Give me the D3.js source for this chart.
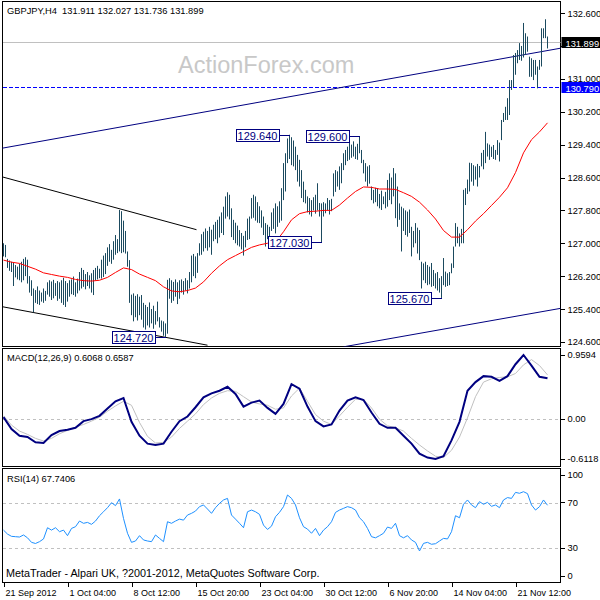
<!DOCTYPE html>
<html>
<head>
<meta charset="utf-8">
<script src="https://cdn.jsdelivr.net/npm/d3@7"></script>
<style>
  body { margin: 0; background: #fff; }
  svg text { font-family: "Liberation Sans", Arial, sans-serif; }
</style>
</head>
<body>
<div id="chart"><svg width="600" height="600"></svg></div>
<script>
// H4 bars, highs and lows (one per bar)
var highs = [
  127.00, 126.96, 126.62, 126.58, 126.55, 126.52, 126.47, 126.43, 126.50, 126.55,
  126.62, 126.66, 126.60, 126.20, 126.10, 125.90, 125.86, 125.95, 125.85, 125.80,
  125.90, 125.84, 126.05, 126.10, 126.07, 126.11, 126.03, 126.08, 126.05, 126.10,
  126.16, 126.08, 126.03, 126.10, 126.12, 126.19, 126.05, 126.14, 126.30, 126.40,
  126.35, 126.25, 126.30, 126.22, 126.27, 126.35, 126.40, 126.45, 126.38, 126.60,
  126.70, 126.76, 126.90, 126.98, 126.84, 127.05, 127.20, 127.10, 127.81, 127.78,
  127.55, 127.30, 126.80, 126.59, 125.75, 125.78, 125.72, 125.76, 125.70, 125.74,
  125.55, 125.50, 125.45, 125.56, 125.40, 125.48, 125.35, 125.58, 125.20, 125.12,
  125.10, 125.05, 126.11, 126.15, 126.10, 126.06, 126.12, 126.05, 126.10, 126.12,
  126.08, 126.15, 126.10, 126.30, 126.70, 126.74, 126.68, 126.76, 127.00, 127.22,
  127.28, 127.36, 127.30, 127.40, 127.33, 127.45, 127.52, 127.57, 127.65, 127.75,
  127.89, 128.14, 128.24, 128.18, 127.85, 127.57, 127.50, 127.43, 127.32, 127.25,
  127.18, 127.30, 127.60, 127.65, 128.10, 128.18, 128.14, 128.00, 127.90, 127.80,
  127.65, 127.49, 127.45, 127.40, 127.75, 127.85, 127.97, 127.90, 128.02, 128.34,
  128.95, 129.19, 129.55, 129.64, 129.58, 129.50, 129.35, 129.15, 129.03, 128.78,
  128.50, 128.30, 128.14, 128.10, 128.05, 128.12, 128.18, 128.46, 127.98, 127.97,
  128.00, 127.97, 128.10, 128.05, 128.08, 128.70, 128.78, 128.75, 128.87, 128.95,
  129.19, 129.27, 129.35, 129.45, 129.40, 129.48, 129.35, 129.42, 129.60, 129.27,
  129.03, 128.95, 128.87, 128.90, 128.38, 128.30, 128.35, 128.34, 128.20, 128.28,
  128.14, 128.25, 128.54, 128.70, 128.60, 128.83, 128.70, 128.38, 127.97, 127.89,
  127.85, 127.80, 127.77, 127.82, 127.40, 127.30, 127.49, 127.38, 127.32, 126.55,
  126.51, 126.55, 126.47, 126.43, 126.52, 126.35, 126.27, 126.30, 126.15, 126.20,
  126.64, 126.31, 126.27, 126.30, 126.51, 126.92, 127.49, 127.40, 127.24, 127.35,
  128.30, 128.34, 128.55, 128.96, 128.95, 128.90, 128.87, 128.93, 128.88, 129.20,
  129.27, 129.71, 129.43, 129.40, 129.35, 129.39, 129.27, 129.51, 129.45, 130.00,
  130.17, 130.32, 130.53, 130.97, 130.97, 131.58, 131.63, 131.70, 131.87, 131.80,
  132.36, 132.11, 132.03, 131.54, 131.50, 131.46, 131.46, 131.30, 131.46, 132.23,
  132.23, 132.45, 132.03
];
var lows = [
  126.68, 126.66, 126.40, 126.33, 126.30, 125.96, 126.17, 126.12, 126.10, 126.05,
  126.10, 126.20, 126.02, 125.80, 125.72, 125.32, 125.55, 125.52, 125.50, 125.58,
  125.55, 125.60, 125.75, 125.70, 125.62, 125.66, 125.72, 125.60, 125.65, 125.55,
  125.50, 125.45, 125.58, 125.70, 125.76, 125.74, 125.70, 125.78, 125.85, 125.90,
  125.94, 125.88, 125.96, 125.90, 125.80, 125.74, 126.10, 126.12, 126.15, 126.14,
  126.18, 126.25, 126.45, 126.55, 126.50, 126.60, 126.72, 126.76, 126.80, 126.76,
  126.78, 126.75, 126.43, 125.55, 125.25, 125.10, 125.20, 125.12, 125.25, 125.14,
  124.95, 124.90, 125.00, 124.95, 125.05, 124.92, 125.02, 125.10, 124.95, 124.85,
  124.75, 124.72, 124.80, 125.65, 125.55, 125.60, 125.70, 125.52, 125.65, 125.80,
  125.75, 125.85, 125.78, 125.90, 126.05, 126.20, 126.15, 126.28, 126.70, 126.72,
  126.80, 126.88, 126.82, 126.90, 126.72, 127.05, 127.10, 127.00, 127.14, 127.25,
  127.20, 127.60, 127.65, 127.58, 127.15, 127.08, 127.00, 126.95, 126.92, 126.85,
  126.70, 126.90, 127.08, 127.10, 127.60, 127.62, 127.55, 127.50, 127.49, 127.38,
  127.20, 126.92, 127.10, 127.05, 127.30, 127.35, 127.24, 127.40, 127.50, 127.55,
  128.05, 128.26, 128.95, 129.05, 128.90, 128.87, 128.78, 128.50, 128.38, 128.10,
  128.00, 127.97, 127.75, 127.70, 127.65, 127.80, 127.72, 127.80, 127.65, 127.03,
  127.65, 127.73, 127.80, 127.70, 127.78, 128.14, 128.25, 128.38, 128.30, 128.46,
  128.78, 128.90, 129.00, 129.03, 129.08, 129.11, 129.05, 129.03, 129.19, 128.95,
  128.70, 128.50, 128.38, 128.45, 128.05, 127.97, 128.00, 127.90, 127.85, 127.81,
  127.95, 127.85, 127.89, 128.05, 127.95, 128.14, 127.61, 127.40, 127.57, 126.80,
  127.30, 127.20, 127.16, 127.25, 126.68, 126.90, 127.00, 126.75, 126.59, 125.90,
  126.10, 126.03, 125.98, 126.00, 125.94, 125.96, 125.90, 125.85, 125.80, 125.67,
  125.98, 125.94, 125.96, 125.98, 126.27, 126.40, 126.92, 127.00, 126.92, 127.00,
  127.00, 127.93, 128.20, 128.26, 128.50, 128.40, 128.55, 128.38, 128.60, 128.87,
  128.80, 128.95, 129.11, 129.03, 129.10, 129.05, 129.03, 129.15, 128.99, 129.51,
  129.95, 130.00, 130.00, 130.12, 130.73, 130.80, 131.10, 131.38, 131.46, 131.44,
  131.52, 131.58, 131.66, 131.05, 131.05, 130.97, 131.10, 130.77, 131.22, 131.30,
  131.99, 131.99, 131.74
];

// red moving average, read every 4th bar
var maStep = 4;
var maValues = [
  126.59, 126.54, 126.51, 126.44, 126.37, 126.28, 126.24, 126.20, 126.17, 126.12,
  126.09, 126.08, 126.10, 126.17, 126.29, 126.40, 126.36, 126.25, 126.17, 126.09,
  125.94, 125.84, 125.82, 125.85, 125.91, 126.06, 126.27, 126.45, 126.60, 126.70,
  126.80, 126.90, 126.96, 127.00, 127.03, 127.28, 127.57, 127.72, 127.77, 127.78,
  127.80, 127.80, 127.93, 128.10, 128.26, 128.37, 128.36, 128.32, 128.32, 128.31,
  128.23, 128.14, 128.00, 127.81, 127.59, 127.31, 127.15, 127.15, 127.33, 127.54,
  127.72, 127.92, 128.12, 128.35, 128.72, 129.20, 129.52, 129.71, 129.93
];

// MACD(12,26,9), every 4th bar
var macdStep = 4;
var macdMain = [
  0.02, -0.16, -0.26, -0.28, -0.36, -0.37, -0.25, -0.19, -0.17, -0.14,
  -0.04, -0.01, 0.04, 0.15, 0.26, 0.31, -0.05, -0.26, -0.38, -0.40,
  -0.38, -0.20, -0.04, 0.03, 0.17, 0.32, 0.38, 0.42, 0.48, 0.37,
  0.18, 0.24, 0.27, 0.16, 0.07, 0.22, 0.52, 0.45, 0.18, -0.04,
  -0.12, -0.09, 0.12, 0.27, 0.32, 0.28, 0.09, -0.08, -0.14, -0.14,
  -0.26, -0.38, -0.53, -0.59, -0.61, -0.57, -0.33, -0.05, 0.42, 0.55,
  0.64, 0.63, 0.57, 0.64, 0.82, 0.9594, 0.80, 0.63, 0.6068
];
var macdSignal = [
  0.04, -0.10, -0.19, -0.24, -0.30, -0.34, -0.30, -0.23, -0.18, -0.13,
  -0.09, -0.04, 0.02, 0.11, 0.19, 0.26, 0.20, -0.06, -0.27, -0.37,
  -0.36, -0.28, -0.15, -0.04, 0.07, 0.21, 0.31, 0.38, 0.42, 0.41,
  0.33, 0.25, 0.22, 0.20, 0.14, 0.16, 0.34, 0.46, 0.26, 0.06,
  -0.04, -0.09, 0.04, 0.17, 0.29, 0.29, 0.16, -0.01, -0.11, -0.14,
  -0.19, -0.30, -0.40, -0.49, -0.57, -0.59, -0.48, -0.28, 0.01, 0.33,
  0.55, 0.60, 0.62, 0.63, 0.68, 0.81, 0.89, 0.80, 0.6587
];

// RSI(14), every 2nd bar
var rsiStep = 2;
var rsiValues = [
  45.8, 42.3, 40.3, 40.0, 39.7, 41.5, 39.0, 35.0, 34.0, 35.6,
  38.0, 47.9, 45.8, 47.9, 44.4, 45.8, 40.9, 47.3, 48.8, 53.8,
  51.8, 52.6, 50.9, 53.8, 58.5, 62.0, 65.6, 70.0, 67.4, 73.3,
  56.1, 43.0, 35.0, 36.2, 40.9, 37.1, 36.2, 35.6, 41.5, 38.5,
  35.6, 53.2, 51.8, 53.8, 55.5, 54.6, 59.1, 60.6, 62.6, 66.5,
  68.0, 64.4, 60.6, 65.6, 69.4, 72.4, 73.8, 59.1, 55.5, 51.8,
  47.9, 62.0, 63.5, 62.0, 59.7, 50.2, 46.4, 49.3, 57.6, 61.5,
  66.5, 76.8, 73.8, 68.0, 56.7, 48.8, 46.7, 43.0, 47.3, 40.9,
  45.8, 48.8, 53.2, 61.4, 63.5, 65.0, 66.5, 65.6, 63.5, 56.7,
  53.2, 47.3, 40.0, 39.0, 40.9, 43.0, 48.5, 47.3, 51.8, 40.9,
  39.0, 40.9, 37.1, 35.0, 27.4, 34.1, 35.0, 33.3, 33.8, 36.2,
  38.5, 38.0, 44.4, 58.5, 56.7, 68.6, 72.4, 68.0, 65.6, 70.9,
  68.6, 70.3, 66.8, 68.0, 65.6, 72.4, 74.5, 73.8, 79.1, 78.3,
  79.7, 78.0, 68.0, 63.5, 66.5, 72.4, 67.7406
];

var priceTicks = [124.6, 125.4, 126.2, 127.0, 127.8, 128.6, 129.4, 130.2, 131.0, 131.8, 132.6];
var macdTicks = [0.9594, 0, -0.6118];
var rsiTicks = [100, 70, 30, 0];
var rsiLevels = [70, 30];
var timeLabels = ["21 Sep 2012", "1 Oct 04:00", "8 Oct 12:00", "15 Oct 20:00", "23 Oct 04:00",
                  "30 Oct 12:00", "6 Nov 20:00", "14 Nov 04:00", "21 Nov 12:00"];
var timeBars = [0, 32, 64, 96, 128, 160, 192, 224, 256];

// swing highs / lows that carry a price tag
var swingBars = [143, 178, 159, 219, 81];
var swingPrices = [129.64, 129.60, 127.03, 125.67, 124.72];

// drawn lines as [bar, price] pairs
var channelLines = [[[-1, 129.31], [279, 131.75]], [[170, 124.48], [279, 125.42]]];
var wedgeLines = [[[-1, 128.62], [96.5, 127.33]], [[-1, 125.46], [102, 124.52]]];

var symbol = "GBPJPY,H4";
var lastOhlc = [131.911, 132.027, 131.736, 131.899];
var levelPrice = 130.79;


function Chart(config) {
  var width = config.width,
      height = config.height,
      id = config.id,
      svg

  var left = 2.5, right = 560.5
  var panes = {main: [1.5, 346.5], macd: [348.5, 466.5], rsi: [468.5, 582]}
  var x, yPrice, yMacd, yRsi

  function chart() {
    initialize();
    drawFrames();
    drawMain();
    drawMacd();
    drawRsi();
    drawTime();
  }

  // horizontal rules land on a whole pixel row
  const crisp = v => Math.round(v) + 0.5

  const initialize = () => {
    svg = d3.select('#' + id).select('svg')
      .attr('width', width).attr('height', height)

    x = d3.scaleLinear().domain([0, highs.length - 1]).range([3.5, 3.5 + 2 * (highs.length - 1)])
    yPrice = d3.scaleLinear().domain([124.6, 132.6]).range([341.9, 13.1])
    yMacd = d3.scaleLinear().domain([-0.6118, 0.9594]).range([459, 355])
    yRsi = d3.scaleLinear().domain([0, 100]).range([582, 468.7])

    var defs = svg.append('defs')
    Object.keys(panes).forEach(k => {
      defs.append('clipPath').attr('id', 'clip-' + k)
        .append('rect')
        .attr('x', left).attr('y', panes[k][0])
        .attr('width', right - left).attr('height', panes[k][1] - panes[k][0])
    })
  }

  const drawFrames = () => {
    Object.keys(panes).forEach(k => {
      svg.append('rect')
        .attr('x', left).attr('y', panes[k][0])
        .attr('width', right - left).attr('height', panes[k][1] - panes[k][0])
        .attr('fill', 'none').attr('stroke', '#000')
        .attr('shape-rendering', 'crispEdges')
    })
  }

  function rightAxis(scale, ticks, fmt) {
    var g = svg.append('g')
      .attr('transform', 'translate(' + right + ',0)')
      .call(d3.axisRight(scale).tickValues(ticks).tickFormat(fmt).tickSize(4))
    g.select('.domain').remove()
    g.selectAll('line').attr('stroke', '#000').attr('shape-rendering', 'crispEdges')
    g.selectAll('text').attr('font-size', 9.3).attr('fill', '#000')
      .attr('font-family', '"Liberation Sans", Arial, sans-serif')
    return g
  }

  const drawMain = () => {
    var plot = svg.append('g').attr('clip-path', 'url(#clip-main)')

    plot.append('text')
      .attr('x', 178).attr('y', 73)
      .attr('font-size', 23.5).attr('fill', '#c8c8c8')
      .text('ActionForex.com')

    // bid line and the dashed level
    plot.append('line')
      .attr('x1', left).attr('x2', right)
      .attr('y1', crisp(yPrice(lastOhlc[3]))).attr('y2', crisp(yPrice(lastOhlc[3])))
      .attr('stroke', '#c0c0c0').attr('shape-rendering', 'crispEdges')
    plot.append('line')
      .attr('x1', left).attr('x2', right)
      .attr('y1', crisp(yPrice(levelPrice))).attr('y2', crisp(yPrice(levelPrice)))
      .attr('stroke', '#0000ff').attr('stroke-dasharray', '4,2')
      .attr('shape-rendering', 'crispEdges')

    var seg = d3.line().x(d => x(d[0])).y(d => yPrice(d[1]))
    plot.selectAll('path.channel').data(channelLines).join('path')
      .attr('class', 'channel')
      .attr('d', seg).attr('fill', 'none').attr('stroke', '#000080')
    plot.selectAll('path.wedge').data(wedgeLines).join('path')
      .attr('class', 'wedge')
      .attr('d', seg).attr('fill', 'none').attr('stroke', '#000')

    plot.selectAll('line.bar').data(highs).join('line')
      .attr('class', 'bar')
      .attr('x1', (d, i) => x(i)).attr('x2', (d, i) => x(i))
      .attr('y1', d => yPrice(d))
      .attr('y2', (d, i) => Math.max(yPrice(lows[i]), yPrice(d) + 1))
      .attr('stroke', '#1b4a5f')

    var ma = d3.line().x((d, i) => x(i * maStep)).y(d => yPrice(d))
    plot.append('path').datum(maValues)
      .attr('d', ma).attr('fill', 'none').attr('stroke', '#ff0000')

    // price tags on swing points
    var tags = plot.selectAll('g.tag').data(swingPrices).join('g').attr('class', 'tag')
    tags.append('line')
      .attr('x1', (d, i) => x(swingBars[i]) - 10).attr('x2', (d, i) => x(swingBars[i]))
      .attr('y1', d => crisp(yPrice(d))).attr('y2', d => crisp(yPrice(d)))
      .attr('stroke', '#000080').attr('shape-rendering', 'crispEdges')
    tags.append('rect')
      .attr('x', (d, i) => x(swingBars[i]) - 53.5)
      .attr('y', d => Math.round(yPrice(d)) - 5.5)
      .attr('width', 43).attr('height', 12)
      .attr('fill', '#fff').attr('stroke', '#000080')
      .attr('shape-rendering', 'crispEdges')
    tags.append('text')
      .attr('x', (d, i) => x(swingBars[i]) - 32)
      .attr('y', d => Math.round(yPrice(d)) + 4.5)
      .attr('text-anchor', 'middle')
      .attr('font-size', 11).attr('fill', '#000080')
      .text(d => d.toFixed(3))

    svg.append('text')
      .attr('x', 7).attr('y', 14)
      .attr('font-size', 9.3).style('white-space', 'pre')
      .text(symbol + '  ' + lastOhlc.map(v => v.toFixed(3)).join(' '))

    var boxes = [
      {price: lastOhlc[3], fill: '#000'},
      {price: levelPrice, fill: '#0000ff'}
    ]
    var g = rightAxis(yPrice, priceTicks, d3.format('.3f'))
    // the scale label sitting under the bid box is covered in the terminal
    g.selectAll('.tick text')
      .filter(d => boxes.some(b => Math.abs(yPrice(d) - yPrice(b.price)) < 7))
      .remove()

    boxes.forEach(b => {
      svg.append('rect')
        .attr('x', right + 1).attr('y', Math.round(yPrice(b.price)) - 5)
        .attr('width', width - right).attr('height', 11)
        .attr('fill', b.fill)
      svg.append('text')
        .attr('x', right + 5).attr('y', Math.round(yPrice(b.price)) + 4.5)
        .attr('font-size', 9.3).attr('fill', '#fff')
        .text(b.price.toFixed(3))
    })
  }

  const drawMacd = () => {
    var plot = svg.append('g').attr('clip-path', 'url(#clip-macd)')
    plot.append('line')
      .attr('x1', left).attr('x2', right)
      .attr('y1', crisp(yMacd(0))).attr('y2', crisp(yMacd(0)))
      .attr('stroke', '#c0c0c0').attr('stroke-dasharray', '3,3')
      .attr('shape-rendering', 'crispEdges')

    var line = d3.line().x((d, i) => x(i * macdStep)).y(d => yMacd(d))
    plot.append('path').datum(macdSignal)
      .attr('d', line).attr('fill', 'none').attr('stroke', '#c0c0c0')
    plot.append('path').datum(macdMain)
      .attr('d', line).attr('fill', 'none').attr('stroke', '#000080').attr('stroke-width', 2)

    svg.append('text')
      .attr('x', 7).attr('y', 361).attr('font-size', 9.3)
      .text('MACD(12,26,9) ' + macdMain[macdMain.length - 1].toFixed(4) + ' ' +
            macdSignal[macdSignal.length - 1].toFixed(4))

    rightAxis(yMacd, macdTicks, d => d === 0 ? '0.00' : d.toFixed(4))
  }

  const drawRsi = () => {
    var plot = svg.append('g').attr('clip-path', 'url(#clip-rsi)')
    plot.selectAll('line.level').data(rsiLevels).join('line')
      .attr('class', 'level')
      .attr('x1', left).attr('x2', right)
      .attr('y1', d => crisp(yRsi(d))).attr('y2', d => crisp(yRsi(d)))
      .attr('stroke', '#c0c0c0').attr('stroke-dasharray', '3,3')
      .attr('shape-rendering', 'crispEdges')

    var line = d3.line().x((d, i) => x(i * rsiStep)).y(d => yRsi(d))
    plot.append('path').datum(rsiValues)
      .attr('d', line).attr('fill', 'none').attr('stroke', '#1e90ff')

    svg.append('text')
      .attr('x', 7).attr('y', 482).attr('font-size', 9.3)
      .text('RSI(14) ' + rsiValues[rsiValues.length - 1].toFixed(4))

    svg.append('text')
      .attr('x', 6).attr('y', 577).attr('font-size', 10.8)
      .text('MetaTrader - Alpari UK, ?2001-2012, MetaQuotes Software Corp.')

    var g = rightAxis(yRsi, rsiTicks, d3.format('d'))
    // keep the end labels inside the pane like the terminal does
    g.selectAll('.tick').attr('transform', d => {
      var yy = Math.min(Math.max(yRsi(d), panes.rsi[0] + 7), panes.rsi[1] - 6)
      return 'translate(0,' + yy + ')'
    })
  }

  const drawTime = () => {
    var g = svg.append('g')
      .attr('transform', 'translate(0,' + panes.rsi[1] + ')')
      .call(d3.axisBottom(x).tickValues(timeBars).tickFormat((d, i) => timeLabels[i]).tickSize(5))
    g.select('.domain').remove()
    g.selectAll('line').attr('stroke', '#000').attr('shape-rendering', 'crispEdges')
    g.selectAll('text')
      .attr('text-anchor', 'start').attr('x', 1.5).attr('y', 8).attr('dy', '0.71em')
      .attr('font-size', 9).attr('fill', '#000')
      .attr('font-family', '"Liberation Sans", Arial, sans-serif')
  }

  chart.width = function(value) {
    if (!arguments.length) return width;
    width = value;
    return chart;
  }

  chart.height = function(value) {
    if (!arguments.length) return height;
    height = value;
    return chart;
  }

  return chart;
}

var chart = Chart({width: 600, height: 600, id: 'chart'});
chart();
</script>
</body>
</html>
